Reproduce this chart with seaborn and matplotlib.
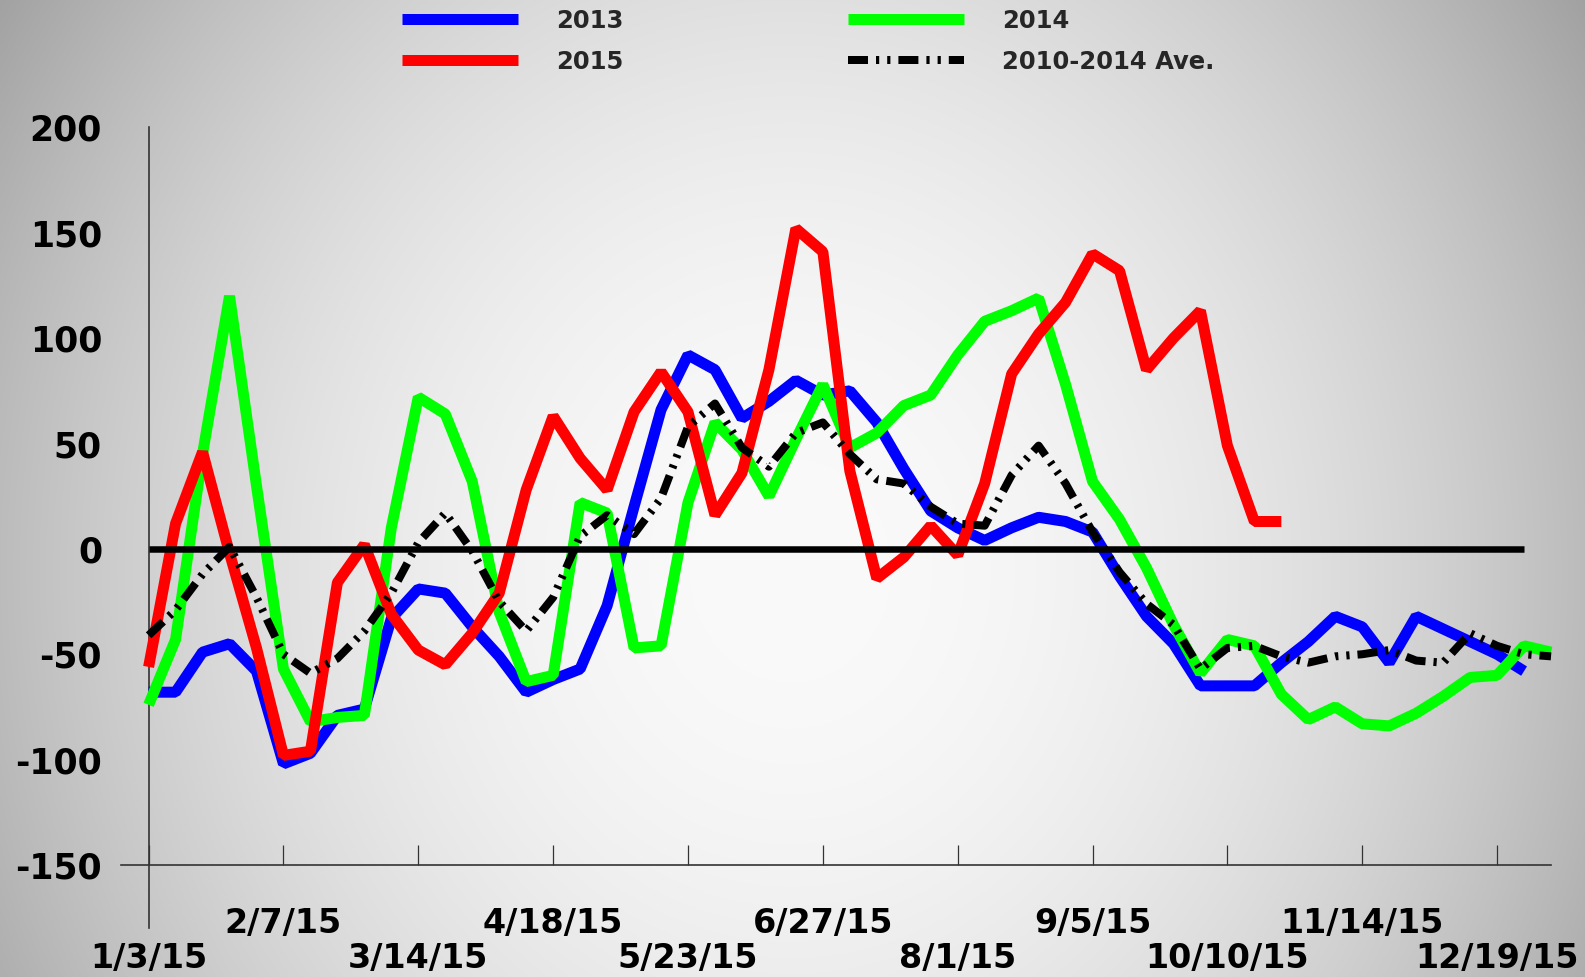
import numpy as np
import matplotlib
matplotlib.use("Agg")
import matplotlib.pyplot as plt
import seaborn as sns
from matplotlib.lines import Line2D

# ---------------- data ----------------
tick_labels_lower = ["1/3/15", "3/14/15", "5/23/15", "8/1/15", "10/10/15", "12/19/15"]
tick_labels_upper = ["2/7/15", "4/18/15", "6/27/15", "9/5/15", "11/14/15"]
y_ticks = [200, 150, 100, 50, 0, -50, -100, -150]
series_names = ["2013", "2014", "2015", "2010-2014 Ave."]

s2013 = [-68, -68, -49, -45, -58, -102, -97, -79, -76, -33,
         -19, -21, -37, -51, -68, -62, -57, -27, 20, 66,
         92, 85, 62, 70, 80, 73, 75, 60, 38, 18,
         10, 4, 10, 15, 13, 8, -13, -32, -45, -65,
         -65, -65, -54, -44, -32, -37, -54, -32, -38, -44,
         -50, -58]
s2014 = [-74, -43, 45, 120, 30, -57, -82, -80, -79, 10,
         72, 64, 32, -30, -63, -60, 22, 17, -47, -46,
         22, 60, 47, 25, 52, 78, 48, 55, 68, 73,
         92, 108, 113, 119, 78, 32, 14, -9, -36, -59,
         -43, -46, -69, -81, -75, -83, -84, -78, -70, -61,
         -60, -46, -49]
s2015 = [-56, 12, 46, -2, -47, -98, -96, -16, 2, -31,
         -48, -55, -40, -21, 28, 63, 43, 28, 65, 84,
         65, 16, 36, 85, 152, 141, 37, -14, -4, 11,
         -3, 31, 83, 102, 117, 140, 132, 85, 100, 113,
         49, 13, 13]
ave = [-41, -29, -12, 1, -23, -50, -59, -52, -39, -21,
       3, 17, -1, -25, -39, -23, 6, 16, 7, 24,
       58, 69, 48, 39, 55, 60, 45, 33, 31, 20,
       12, 11, 35, 49, 31, 8, -11, -26, -36, -57,
       -47, -46, -51, -54, -51, -50, -48, -53, -54, -40,
       -46, -50, -51]
baseline = [0] * 52

# ---------------- style ----------------
sns.set_style("white")
plt.rcParams["font.family"] = ["DejaVu Sans"]
plt.rcParams["font.weight"] = "bold"

W, H = 1585, 977
PT = 0.72  # points per pixel at dpi 100
fig = plt.figure(figsize=(W / 100, H / 100), dpi=100)

# radial grey background
yy, xx = np.mgrid[0:H, 0:W]
g = 250 - 62 * ((xx - 790) / 790.0) ** 2 - 26 * ((yy - 570) / 570.0) ** 2
g = np.clip(g, 0, 255) / 255.0
bg = fig.add_axes([0, 0, 1, 1], zorder=-10)
bg.imshow(np.dstack([g, g, g]), aspect="auto", extent=(0, 1, 0, 1))
bg.axis("off")

px_week = 26.97
x0_px = 148.6
xmin, xmax = -1.1, 52.5
ax = fig.add_axes([(x0_px + xmin * px_week) / W, 1 - 865 / H,
                   (xmax - xmin) * px_week / W, (865 - 127.4) / H])
ax.set_facecolor("none")

ave_dash = (0, (2.5, 1.0, 0.4, 1.0, 0.4, 1.0))

def draw(vals, color, lw_px, z, ls="-"):
    n = len(vals)
    sns.lineplot(x=np.arange(n), y=vals, color=color, linewidth=lw_px * PT,
                 ax=ax, legend=False, zorder=z, sort=False)
    ln = ax.lines[-1]
    ln.set_linestyle(ls)
    ln.set_solid_capstyle("butt")
    ln.set_dash_capstyle("butt")
    ln.set_solid_joinstyle("bevel")
    return ln

draw(s2013, "#0000FF", 11, 3)
draw(s2014, "#00FF00", 11, 4)
draw(s2015, "#FF0000", 11, 5)
draw(ave, "black", 8, 6, ave_dash)
draw(baseline, "black", 6.5, 7)

ax.set_xlim(xmin, xmax)
ax.set_ylim(-150, 200)

tick_col = "#333333"
ax.set_xticks(range(0, 51, 10))
ax.set_xticklabels(tick_labels_lower)
ax.set_xticks(range(5, 50, 10), minor=True)
ax.set_xticklabels(tick_labels_upper, minor=True)
ax.tick_params(axis="x", which="major", direction="out", length=63 * PT, width=0.9,
               color=tick_col, pad=14 * PT, labelsize=24, labelcolor="black")
ax.tick_params(axis="x", which="minor", direction="out", length=21 * PT, width=0.9,
               color=tick_col, pad=21 * PT, labelsize=24, labelcolor="black")
ax.set_yticks(y_ticks)
ax.set_yticklabels([str(v) for v in y_ticks])
ax.tick_params(axis="y", direction="inout", length=54 * PT, width=0.9,
               color=tick_col, pad=19.6 * PT, labelsize=25, labelcolor="black")
for lab in ax.get_xticklabels(which="both") + ax.get_yticklabels():
    lab.set_fontweight("bold")

ax.spines["top"].set_visible(False)
ax.spines["right"].set_visible(False)
ax.spines["left"].set_position(("data", 0))
ax.spines["left"].set_bounds(-180, 200)
ax.spines["bottom"].set_bounds(-1.04, 52)
for s in ("left", "bottom"):
    ax.spines[s].set_color(tick_col)
    ax.spines[s].set_linewidth(1.2)

sec = ax.secondary_xaxis("bottom")
sec.set_xticks(range(0, 51, 5))
sec.tick_params(direction="in", length=20 * PT, width=0.9, color=tick_col,
                labelbottom=False)
for s in sec.spines.values():
    s.set_visible(False)

h13 = Line2D([], [], color="#0000FF", lw=11 * PT, solid_capstyle="butt")
h15 = Line2D([], [], color="#FF0000", lw=11 * PT, solid_capstyle="butt")
h14 = Line2D([], [], color="#00FF00", lw=11 * PT, solid_capstyle="butt")
hav = Line2D([], [], color="black", lw=8 * PT, linestyle=ave_dash, dash_capstyle="butt")
fig.legend(handles=[h13, h15, h14, hav],
           labels=[series_names[0], series_names[2], series_names[1], series_names[3]],
           ncol=2, loc="upper left", bbox_to_anchor=(402 / W, 1 - 9 / H),
           frameon=False, prop={"family": "DejaVu Sans", "weight": "bold", "size": 17.5},
           handlelength=4.77, handletextpad=1.56, columnspacing=9.26,
           labelspacing=0.68, borderpad=0, borderaxespad=0)

fig.savefig("out.png", dpi=100)
